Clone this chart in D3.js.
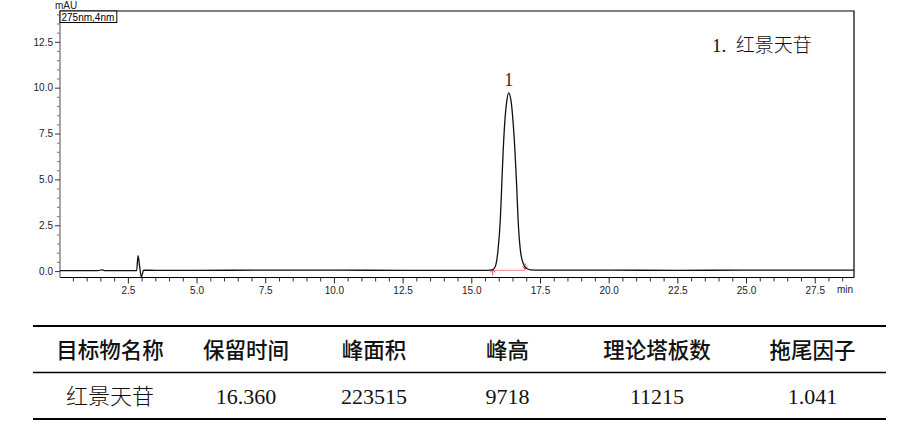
<!DOCTYPE html>
<html>
<head>
<meta charset="utf-8">
<script src="https://cdn.jsdelivr.net/npm/d3@7"></script>
<style>
  body { margin: 0; background: #fff; }
  svg { display: block; }
</style>
</head>
<body>
<svg></svg>
<script>
// chromatogram trace (min, mAU)
var traceTime = [0.03, 0.8, 1.4, 1.55, 1.65, 2.0, 2.6, 2.82, 2.87, 2.92, 2.99, 3.02, 3.07, 3.5,
  5.0, 7.5, 10.0, 12.5, 15.0, 15.6, 15.75, 15.85, 15.9, 15.97, 16.06, 16.11, 16.16, 16.23,
  16.29, 16.36, 16.45, 16.51, 16.59, 16.65, 16.7, 16.79, 16.9, 17.0, 17.15, 17.5, 20.0,
  22.5, 25.0, 27.5, 28.93];
var traceSignal = [0.02, 0.02, 0.02, 0.07, 0.03, 0.02, 0.02, 0.03, 0.84, 0.35, -0.33, -0.2, 0.05, 0.04,
  0.04, 0.05, 0.05, 0.04, 0.04, 0.04, 0.06, 0.18, 0.38, 1.10, 2.91, 4.72, 6.53, 8.34,
  9.25, 9.72, 9.25, 8.34, 6.53, 4.72, 2.91, 1.10, 0.38, 0.15, 0.07, 0.05, 0.05,
  0.04, 0.05, 0.05, 0.05];

var peakNames = ["1"];
var peakTimes = [16.36];
var peakHeights = [9.72];
var peakStarts = [15.78];
var peakEnds = [16.96];

var xTicks = [2.5, 5.0, 7.5, 10.0, 12.5, 15.0, 17.5, 20.0, 22.5, 25.0, 27.5];
var yTicks = [0.0, 2.5, 5.0, 7.5, 10.0, 12.5];

var legendText = "1.  红景天苷";

var tableHeader = ["目标物名称", "保留时间", "峰面积", "峰高", "理论塔板数", "拖尾因子"];
var tableRow = ["红景天苷", "16.360", "223515", "9718", "11215", "1.041"];
var colCenters = [110, 246, 374, 507.5, 657, 812.5];

var width = 900, height = 422;
var svg = d3.select("svg").attr("width", width).attr("height", height);

var pLeft = 60, pRight = 854, pTop = 11, pBottom = 277.5;

var x = d3.scaleLinear().domain([0.03, 28.93]).range([pLeft, pRight]);
var y = d3.scaleLinear().domain([-0.35, 14.18]).range([pBottom, pTop]);

// frame: top and right
svg.append("path")
  .attr("d", "M" + pLeft + "," + pTop + "H" + pRight + "V" + pBottom)
  .attr("fill", "none").attr("stroke", "#000").attr("stroke-width", 1.2);

// x axis
var xMinor = d3.range(0.5, 28.9, 0.5).filter(function (d) { return Math.abs(d / 2.5 - Math.round(d / 2.5)) > 1e-6; });
var xAxis = svg.append("g").attr("transform", "translate(0," + pBottom + ")");
xAxis.append("g")
  .call(d3.axisBottom(x).tickValues(xMinor).tickSize(4).tickFormat(""))
  .call(function (g) { g.select(".domain").remove(); })
  .selectAll("line").attr("stroke", "#333");
xAxis.append("g")
  .call(d3.axisBottom(x).tickValues(xTicks).tickSize(6).tickPadding(3).tickFormat(d3.format(".1f")))
  .call(function (g) {
    g.select(".domain").attr("d", "M" + pLeft + ",0H" + pRight).attr("stroke", "#000").attr("stroke-width", 1.2);
    g.selectAll("line").attr("stroke", "#222");
    g.selectAll("text").attr("font-family", "Liberation Sans, Arial, sans-serif").attr("font-size", 10).attr("fill", "#1a1a2a");
  });
svg.append("text").attr("x", 837).attr("y", 293)
  .attr("font-family", "Liberation Sans, Arial, sans-serif").attr("font-size", 10).attr("fill", "#1a1a2a")
  .text("min");

// y axis
var yMinor = d3.range(0, 14.1, 0.5).filter(function (d) { return Math.abs(d / 2.5 - Math.round(d / 2.5)) > 1e-6; });
var yAxis = svg.append("g").attr("transform", "translate(" + pLeft + ",0)");
yAxis.append("g")
  .call(d3.axisLeft(y).tickValues(yMinor).tickSize(3).tickFormat(""))
  .call(function (g) { g.select(".domain").remove(); })
  .selectAll("line").attr("stroke", "#888").attr("stroke-width", 1.2);
yAxis.append("g")
  .call(d3.axisLeft(y).tickValues(yTicks).tickSize(5).tickPadding(2).tickFormat(d3.format(".1f")))
  .call(function (g) {
    g.select(".domain").attr("d", "M0," + pTop + "V" + pBottom).attr("stroke", "#8a8a8a").attr("stroke-width", 1.5);
    g.selectAll("line").attr("stroke", "#333");
    g.selectAll("text").attr("font-family", "Liberation Sans, Arial, sans-serif").attr("font-size", 10).attr("fill", "#1a1a2a");
  });
svg.append("text").attr("x", 55).attr("y", 9)
  .attr("font-family", "Liberation Sans, Arial, sans-serif").attr("font-size", 10).attr("fill", "#1a1a2a")
  .text("mAU");

// channel box
var chan = svg.append("g");
var chanText = chan.append("text").attr("x", 61.5).attr("y", 20.5)
  .attr("font-family", "Liberation Sans, Arial, sans-serif").attr("font-size", 10).attr("fill", "#000")
  .text("275nm,4nm");
var bb = chanText.node().getBBox();
chan.insert("rect", "text").attr("x", pLeft).attr("y", pTop).attr("width", bb.width + 4).attr("height", 11.5)
  .attr("fill", "#fff").attr("stroke", "#000").attr("stroke-width", 1);

// integration baseline and markers
peakStarts.forEach(function (s, i) {
  var e = peakEnds[i];
  var by = y(0.04);
  svg.append("line").attr("x1", x(s)).attr("x2", x(e)).attr("y1", by).attr("y2", by)
    .attr("stroke", "#f5a0a0").attr("stroke-width", 1.2);
  svg.append("path")
    .attr("d", "M" + x(s) + "," + (by - 1) + "V" + (by + 5) + "M" + (x(s) - 2.5) + "," + (by + 2) + "L" + x(s) + "," + (by - 1) + "L" + (x(s) + 2.5) + "," + (by + 2))
    .attr("fill", "none").attr("stroke", "#f04040").attr("stroke-width", 1);
  svg.append("path")
    .attr("d", "M" + x(e) + "," + (by - 7) + "V" + (by - 1) + "M" + (x(e) - 2.5) + "," + (by - 4) + "L" + x(e) + "," + (by - 1) + "L" + (x(e) + 2.5) + "," + (by - 4))
    .attr("fill", "none").attr("stroke", "#f04040").attr("stroke-width", 1);
});

// trace
var line = d3.line()
  .x(function (d, i) { return x(traceTime[i]); })
  .y(function (d) { return y(d); })
  .curve(d3.curveMonotoneX);
svg.append("path").datum(traceSignal)
  .attr("d", line)
  .attr("fill", "none").attr("stroke", "#111").attr("stroke-width", 1.3);

// peak labels
svg.selectAll(".peaklabel").data(peakNames).enter().append("text")
  .attr("class", "peaklabel")
  .attr("x", function (d, i) { return x(peakTimes[i]); })
  .attr("y", function (d, i) { return y(peakHeights[i]) - 7; })
  .attr("text-anchor", "middle")
  .attr("font-family", "Liberation Serif, Times New Roman, serif").attr("font-size", 18)
  .attr("fill", "#3a2410")
  .text(function (d) { return d; });

// legend
svg.append("text").attr("x", 712).attr("y", 52)
  .attr("font-family", "Liberation Serif, Noto Sans CJK SC, serif").attr("font-size", 19)
  .attr("font-weight", 300).attr("fill", "#111")
  .attr("xml:space", "preserve")
  .text(legendText);

// table
var tLeft = 33, tRight = 886;
[[326, 2], [372.5, 1.5], [419, 2]].forEach(function (r) {
  svg.append("line").attr("x1", tLeft).attr("x2", tRight).attr("y1", r[0]).attr("y2", r[0])
    .attr("stroke", "#000").attr("stroke-width", r[1]);
});
svg.selectAll(".th").data(tableHeader).enter().append("text")
  .attr("class", "th")
  .attr("x", function (d, i) { return colCenters[i]; })
  .attr("y", 350).attr("dy", "0.36em")
  .attr("text-anchor", "middle")
  .attr("font-family", "Noto Sans CJK SC, sans-serif").attr("font-size", 21.5).attr("font-weight", 500)
  .attr("fill", "#111")
  .text(function (d) { return d; });
svg.selectAll(".td").data(tableRow).enter().append("text")
  .attr("class", "td")
  .attr("x", function (d, i) { return colCenters[i]; })
  .attr("y", 396).attr("dy", "0.35em")
  .attr("text-anchor", "middle")
  .attr("font-family", "Liberation Serif, Noto Sans CJK SC, serif").attr("font-size", 22).attr("font-weight", 300)
  .attr("fill", "#111")
  .text(function (d) { return d; });
</script>
</body>
</html>
